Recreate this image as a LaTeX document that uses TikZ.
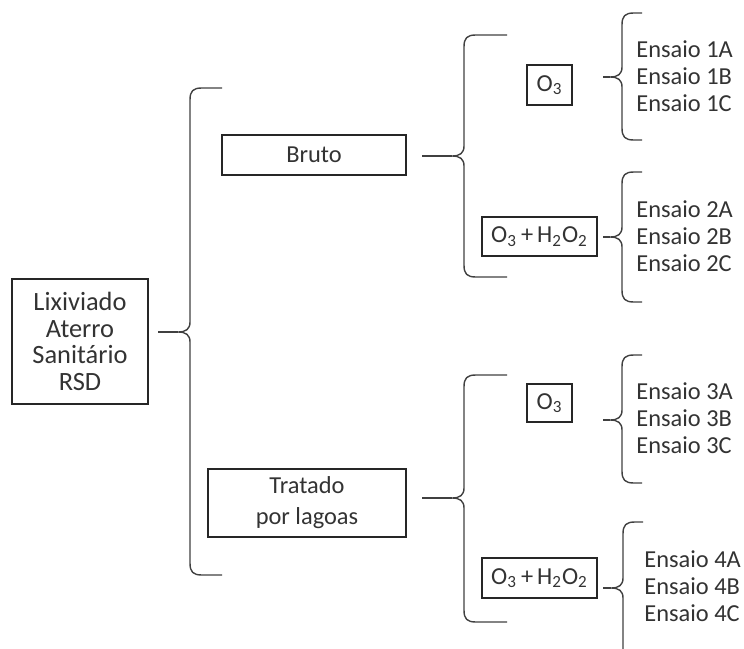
\documentclass[tikz,border=0pt]{standalone}
\usepackage{fontspec}
\setmainfont{Carlito}
\newcommand{\chave}[6]{% x, top, mid, bottom, tip, arm end
  \draw [brace] (#6,#2) -- (#1+12,#2) .. controls (#1+3,#2) and (#1,#2+3) .. (#1,#2+12)
    -- (#1,#3-10) .. controls (#1,#3-3) and (#1-4,#3) .. (#1-12,#3)
    .. controls (#1-4,#3) and (#1,#3+3) .. (#1,#3+10)
    -- (#1,#4-12) .. controls (#1,#4-3) and (#1+3,#4) .. (#1+12,#4) -- (#6,#4);
  \draw [brace] (#1-12,#3) -- (#5,#3);}
\tikzset{
  box/.style={draw=black!85, line width=0.6pt, align=center, inner sep=2pt, text=black!80, font=\fontsize{12.2}{15.5}\selectfont},
  ens/.style={anchor=west, align=left, inner sep=0pt, text=black!80, font=\fontsize{12.2}{13.6}\selectfont},
  brace/.style={draw=black!75, line width=0.7pt}
}
\begin{document}
\begin{tikzpicture}[x=0.5pt, y=-0.5pt]
\clip (0,0) rectangle (744,648);
\node [box, minimum width=68pt, minimum height=62.5pt, font=\fontsize{13.2}{13.2}\selectfont] (lix) at (80,341.5) {Lixiviado\\Aterro\\Sanitário\\RSD};
\node [box, minimum width=92pt, minimum height=20pt] (bruto) at (314,155) {Bruto};
\node [box, minimum width=99pt, minimum height=34pt] (tratado) at (307,503) {Tratado\\por lagoas};
\node [box, minimum width=22.5pt, minimum height=20pt] (ozA) at (549.5,85) {O\textsubscript{3}};
\node [box, minimum width=57.5pt, minimum height=19.5pt] (ohA) at (539.5,236.5) {O\textsubscript{3}\,+\,H\textsubscript{2}O\textsubscript{2}};
\node [box, minimum width=22.5pt, minimum height=19pt] (ozB) at (549.5,403) {O\textsubscript{3}};
\node [box, minimum width=57.5pt, minimum height=20pt] (ohB) at (539.5,578) {O\textsubscript{3}\,+\,H\textsubscript{2}O\textsubscript{2}};
\node [ens] (e1) at (636,76) {Ensaio 1A\\Ensaio 1B\\Ensaio 1C};
\node [ens] (e2) at (636,236) {Ensaio 2A\\Ensaio 2B\\Ensaio 2C};
\node [ens] (e3) at (636,418) {Ensaio 3A\\Ensaio 3B\\Ensaio 3C};
\node [ens] (e4) at (644,586) {Ensaio 4A\\Ensaio 4B\\Ensaio 4C};
% chaves
\chave{190}{88}{332}{575}{158}{222}
\chave{464}{35}{156}{277}{422}{507}
\chave{464}{375}{498}{622}{422}{507}
\chave{622}{13}{77}{140}{603}{642}
\chave{622}{172}{237}{302}{603}{642}
\chave{622}{355}{420}{483}{603}{642}
\chave{623}{522}{588}{670}{603}{643}
\end{tikzpicture}
\end{document}
